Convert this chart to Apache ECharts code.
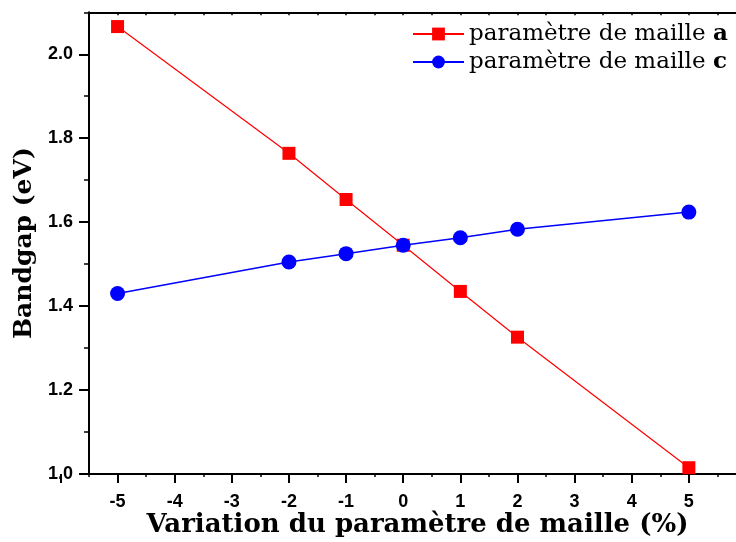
<!DOCTYPE html>
<html>
<head>
<meta charset="utf-8">
<script src="https://cdn.jsdelivr.net/npm/echarts@6/dist/echarts.min.js"></script>
<style>html,body{margin:0;padding:0;background:#fff;}#chart{width:736px;height:542px;}</style>
</head>
<body>
<div id="chart"></div>
<script>
const xValues = [-5, -2, -1, 0, 1, 2, 5];
const aValues = [2.066, 1.764, 1.654, 1.545, 1.435, 1.326, 1.015];
const cValues = [1.430, 1.505, 1.525, 1.545, 1.563, 1.583, 1.624];
const seriesNames = ['a', 'c'];
const xTitle = 'Variation du paramètre de maille (%)';
const yTitle = 'Bandgap (eV)';

const chart = echarts.init(document.getElementById('chart'));
const black = '#000';
const labelFont = { fontFamily: 'Liberation Sans', fontWeight: 'bold', fontSize: 18, color: black };
const titleFont = { fontFamily: 'DejaVu Serif', fontWeight: 'bold', fontSize: 25, color: black };
const xTitleFont = { fontFamily: 'DejaVu Serif', fontWeight: 'bold', fontSize: 26, color: black };

chart.setOption({
  animation: false,
  backgroundColor: '#fff',
  grid: [
    { left: 89, width: 657, top: 12.3, bottom: 68, outerBoundsMode: 'none', containLabel: false },
    { left: 60.435, width: 685.57, top: 12.3, bottom: 68, outerBoundsMode: 'none', containLabel: false },
    { left: 89, width: 657, top: 54.3, bottom: 68, outerBoundsMode: 'none', containLabel: false }
  ],
  legend: {
    orient: 'vertical',
    left: 412,
    top: 21,
    padding: 0,
    itemWidth: 51,
    itemHeight: 16,
    itemGap: 2,
    data: seriesNames,
    formatter: n => 'paramètre de maille {b|' + n + '}',
    textStyle: {
      fontFamily: 'DejaVu Serif', fontSize: 23, color: black, lineHeight: 26,
      rich: { b: { fontFamily: 'DejaVu Serif', fontSize: 23, fontWeight: 'bold', color: black, lineHeight: 26 } }
    }
  },
  xAxis: [
    { gridIndex: 0, type: 'value', position: 'bottom', min: -5.5, max: 6, interval: 0.5,
      axisLine: { show: true, onZero: false, lineStyle: { color: black, width: 2 } },
      axisTick: { show: true, inside: false, length: 3, lineStyle: { color: black, width: 1.5 } },
      axisLabel: { show: false }, splitLine: { show: false },
      name: xTitle, nameLocation: 'middle', nameGap: 38, nameTextStyle: xTitleFont },
    { gridIndex: 0, type: 'value', position: 'top', min: -5.5, max: 6, interval: 0.5,
      axisLine: { show: true, onZero: false, lineStyle: { color: black, width: 2 } },
      axisTick: { show: true, inside: true, length: 3, lineStyle: { color: black, width: 1.5 } },
      axisLabel: { show: false }, splitLine: { show: false } },
    { gridIndex: 1, type: 'value', position: 'bottom', min: -6, max: 6, interval: 1,
      axisLine: { show: false, onZero: false },
      axisTick: { show: true, inside: false, length: 9, lineStyle: { color: black, width: 2 } },
      axisLabel: Object.assign({ show: true, margin: 19, formatter: v => (v === -6 || v === 6) ? '' : String(v) }, labelFont),
      splitLine: { show: false } },
    { gridIndex: 2, type: 'value', show: false, min: -5.5, max: 6, axisLine: { onZero: false } }
  ],
  yAxis: [
    { gridIndex: 0, type: 'value', min: 1, max: 2.1, interval: 0.1,
      axisLine: { show: true, onZero: false, lineStyle: { color: black, width: 2 } },
      axisTick: { show: true, inside: false, length: 5, lineStyle: { color: black, width: 1.5 } },
      axisLabel: { show: false }, splitLine: { show: false },
      name: yTitle, nameLocation: 'middle', nameGap: 52, nameTextStyle: titleFont },
    { gridIndex: 1, type: 'value', show: false, min: 1, max: 2.1, axisLine: { onZero: false } },
    { gridIndex: 2, type: 'value', min: 1, max: 2, interval: 0.2,
      axisLine: { show: false, onZero: false },
      axisTick: { show: true, inside: false, length: 10, lineStyle: { color: black, width: 2 } },
      axisLabel: Object.assign({ show: true, margin: 16, formatter: v => v.toFixed(1) }, labelFont),
      splitLine: { show: false } }
  ],
  series: [
    { name: seriesNames[0], type: 'line', xAxisIndex: 0, yAxisIndex: 0,
      data: xValues.map((x, i) => [x, aValues[i]]),
      symbol: 'rect', symbolSize: 13,
      itemStyle: { color: '#ff0000' },
      lineStyle: { color: '#ff0000', width: 1.2 } },
    { name: seriesNames[1], type: 'line', xAxisIndex: 0, yAxisIndex: 0,
      data: xValues.map((x, i) => [x, cValues[i]]),
      symbol: 'circle', symbolSize: 15,
      itemStyle: { color: '#0000ff' },
      lineStyle: { color: '#0000ff', width: 1.5 } }
  ]
});
</script>
</body>
</html>
